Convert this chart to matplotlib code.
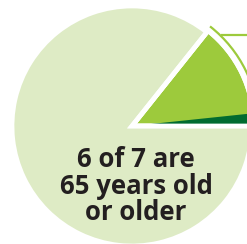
import numpy as np
import matplotlib.pyplot as plt
from matplotlib.patches import Wedge, Arc

plt.rcParams["font.family"] = ["Open Sans", "DejaVu Sans"]

# share of people: small slice = under 65, big slice = 65 and older
labels = ["under 65", "65 and older"]
values = [1, 6]
colors = ["#9dca3c", "#deebc5"]
caption = "6 of 7 are\n65 years old\nor older"

W, H = 247, 244
fig = plt.figure(figsize=(W / 100, H / 100), dpi=100)
ax = fig.add_axes([0, 0, 1, 1])

center = (132, H - 126)
wedges, _ = ax.pie(
    values,
    colors=colors,
    radius=120,
    center=center,
    startangle=0,
    explode=[0.02, 0],
    frame=True,
    wedgeprops=dict(edgecolor="white", linewidth=3.4),
)
ax.set_xlim(0, W)
ax.set_ylim(0, H)
ax.set_aspect("equal")
ax.axis("off")

# darker bottom face of the small slice
small = wedges[0]
small.set_radius(small.r + 2)
dark = Wedge(small.center, small.r, small.theta1, small.theta1 + 6,
             facecolor="#006b30", edgecolor="none", zorder=small.zorder + 0.1)
ax.add_patch(dark)
outline = Wedge(small.center, small.r, small.theta1, small.theta2,
                facecolor="none", edgecolor="white", linewidth=3.4,
                zorder=small.zorder + 0.2)
ax.add_patch(outline)

# thin outer arc and rule line
ax.add_patch(Arc(small.center, 2 * (small.r + 4.5), 2 * (small.r + 4.5),
                 theta1=small.theta1, theta2=small.theta2 + 0.5,
                 color="#9dca3c", linewidth=1.6, zorder=3))
ax.plot([222, W], [H - 35, H - 35], color="#9dca3c", linewidth=1.6, zorder=3)

ax.text(136, H - 186, caption, ha="center", va="center",
        fontsize=18.5, fontweight="bold", color="#231f20",
        linespacing=0.98, zorder=4)

fig.savefig("out.png", dpi=100)
